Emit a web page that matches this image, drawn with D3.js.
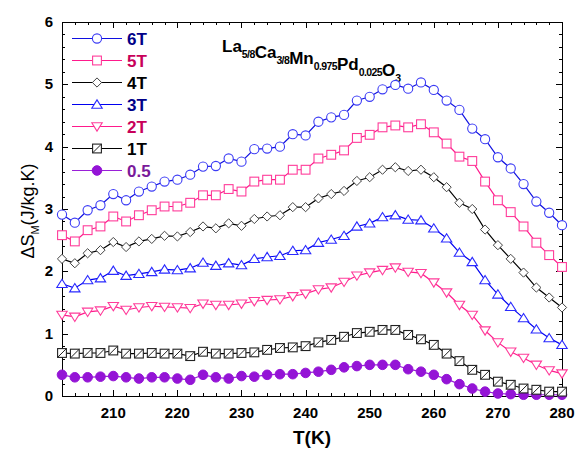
<!DOCTYPE html>
<html>
<head>
<meta charset="utf-8">
<script src="https://cdn.jsdelivr.net/npm/d3@7"></script>
<style>
body { margin: 0; background: #fff; }
text { font-family: Arial, "Liberation Sans", sans-serif; }
.tickLabel { font-size: 15px; font-weight: bold; }
</style>
</head>
<body>
<div id="chart"></div>
<script>
const width = 576;
const height = 452;

const margin = {top: 22, right: 14, bottom: 56, left: 62};

// temperatures (K)
const temps = [202,204,206,208,210,212,214,216,218,220,222,224,226,228,230,232,234,236,238,240,
               242,244,246,248,250,252,254,256,258,260,262,264,266,268,270,272,274,276,278,280];

const s6T = [2.91,2.78,2.98,3.06,3.24,3.14,3.28,3.36,3.44,3.47,3.55,3.68,3.69,3.81,3.76,3.96,3.97,4.00,4.20,4.18,
             4.40,4.47,4.51,4.74,4.80,4.92,4.99,4.93,5.03,4.91,4.74,4.59,4.29,4.12,3.83,3.65,3.40,3.12,2.94,2.74];
const s5T = [2.58,2.48,2.66,2.72,2.88,2.80,2.90,2.98,3.04,3.04,3.10,3.22,3.22,3.32,3.28,3.44,3.47,3.47,3.63,3.63,
             3.81,3.87,3.94,4.14,4.19,4.31,4.34,4.31,4.36,4.23,4.05,3.84,3.77,3.44,3.14,2.95,2.72,2.46,2.26,2.07];
const s4T = [2.20,2.13,2.29,2.34,2.47,2.39,2.48,2.52,2.57,2.56,2.63,2.72,2.69,2.77,2.73,2.84,2.88,2.90,3.03,3.03,
             3.17,3.24,3.29,3.45,3.51,3.63,3.67,3.61,3.63,3.51,3.35,3.10,3.00,2.67,2.42,2.20,1.98,1.74,1.58,1.42];
const s3T = [1.80,1.73,1.86,1.89,2.01,1.93,1.96,1.99,2.03,2.02,2.05,2.14,2.09,2.13,2.10,2.20,2.23,2.25,2.33,2.34,
             2.46,2.51,2.57,2.72,2.77,2.87,2.90,2.83,2.82,2.69,2.53,2.30,2.15,1.86,1.63,1.43,1.25,1.07,0.93,0.82];
const s2T = [1.30,1.27,1.35,1.37,1.44,1.38,1.42,1.44,1.43,1.42,1.41,1.48,1.46,1.46,1.48,1.52,1.54,1.55,1.60,1.64,
             1.71,1.74,1.83,1.93,1.98,2.02,2.06,1.99,1.97,1.82,1.66,1.46,1.30,1.05,0.86,0.71,0.61,0.50,0.41,0.36];
const s1T = [0.69,0.68,0.69,0.69,0.73,0.68,0.68,0.69,0.68,0.68,0.64,0.71,0.68,0.68,0.69,0.70,0.74,0.77,0.78,0.80,
             0.86,0.90,0.95,1.01,1.03,1.06,1.06,0.98,0.91,0.82,0.68,0.56,0.42,0.34,0.23,0.18,0.12,0.10,0.07,0.07];
const s05 = [0.34,0.30,0.30,0.31,0.32,0.30,0.28,0.30,0.30,0.28,0.26,0.34,0.30,0.28,0.32,0.31,0.34,0.35,0.35,0.37,
             0.39,0.42,0.46,0.48,0.50,0.50,0.50,0.43,0.39,0.34,0.27,0.19,0.12,0.07,0.04,0.03,0.02,0.02,0.02,0.02];

const seriesNames = ["6T", "5T", "4T", "3T", "2T", "1T", "0.5"];
const seriesValues = [s6T, s5T, s4T, s3T, s2T, s1T, s05];

const xTicks = [210, 220, 230, 240, 250, 260, 270, 280];
const yTicks = [0, 1, 2, 3, 4, 5, 6];

// look of each series
const styles = {
   "6T":  {line: "#1010e0", stroke: "#3c3cf5", label: "#000088", marker: "circle"},
   "5T":  {line: "#ff1a8c", stroke: "#ff3c9a", label: "#c8005a", marker: "square"},
   "4T":  {line: "#000000", stroke: "#444444", label: "#000000", marker: "diamond"},
   "3T":  {line: "#0000f0", stroke: "#2a2aff", label: "#000088", marker: "triangle"},
   "2T":  {line: "#ff1a8c", stroke: "#ff3c9a", label: "#c8005a", marker: "triangleDown"},
   "1T":  {line: "#000000", stroke: "#222222", label: "#000000", marker: "slashSquare"},
   "0.5": {line: "#9a20d8", stroke: "#9414d6", label: "#7a1a9a", marker: "dot"}
};

const svg = d3.select("#chart").append("svg")
   .attr("width", width)
   .attr("height", height);

const x = d3.scaleLinear()
   .domain([202, 280])
   .range([margin.left, width - margin.right]);

const y = d3.scaleLinear()
   .domain([0, 6])
   .range([height - margin.bottom, margin.top]);

const x0 = margin.left, x1 = width - margin.right;
const y0 = height - margin.bottom, y1 = margin.top;

// ticks (inward on all four sides)
const xMinor = d3.range(202, 280.1, 2);
const yMinor = d3.range(0, 6.01, 0.2);
const tickG = svg.append("g").attr("stroke", "#000").attr("stroke-width", 1);

xMinor.forEach(t => {
   const len = xTicks.includes(Math.round(t)) ? 6 : 3;
   const px = Math.round(x(t)) + 0.5;
   tickG.append("line").attr("x1", px).attr("x2", px).attr("y1", y0).attr("y2", y0 - len);
   tickG.append("line").attr("x1", px).attr("x2", px).attr("y1", y1).attr("y2", y1 + len);
});
yMinor.forEach(v => {
   const major = Math.abs(v - Math.round(v)) < 1e-6;
   const len = major ? 6 : 3;
   const py = Math.round(y(v)) + 0.5;
   tickG.append("line").attr("x1", x0).attr("x2", x0 + len).attr("y1", py).attr("y2", py);
   tickG.append("line").attr("x1", x1).attr("x2", x1 - len).attr("y1", py).attr("y2", py);
});

// frame
svg.append("rect")
   .attr("x", x0 + 0.5).attr("y", y1 + 0.5)
   .attr("width", x1 - x0).attr("height", y0 - y1)
   .attr("fill", "none").attr("stroke", "#000").attr("stroke-width", 1);

// tick labels
svg.selectAll("text.xl")
   .data(xTicks)
   .enter().append("text")
   .attr("class", "tickLabel xl")
   .attr("x", d => x(d))
   .attr("y", y0 + 22)
   .attr("text-anchor", "middle")
   .text(d => d);

svg.selectAll("text.yl")
   .data(yTicks)
   .enter().append("text")
   .attr("class", "tickLabel yl")
   .attr("x", x0 - 9)
   .attr("y", d => y(d) + 5)
   .attr("text-anchor", "end")
   .text(d => d);

// axis titles
svg.append("text")
   .attr("x", (x0 + x1) / 2)
   .attr("y", 444)
   .attr("text-anchor", "middle")
   .style("font-size", "19px")
   .style("font-weight", "bold")
   .text("T(K)");

const yTitle = svg.append("text")
   .attr("transform", `translate(34, ${(y0 + y1) / 2 + 2}) rotate(-90)`)
   .attr("text-anchor", "middle")
   .style("font-size", "18px");
yTitle.append("tspan").text("ΔS");
yTitle.append("tspan").attr("dy", 5).style("font-size", "11px").text("M");
yTitle.append("tspan").attr("dy", -5).text("(J/kg.K)");

// compound formula
const formula = svg.append("text")
   .attr("x", 222)
   .attr("y", 52)
   .style("font-weight", "bold")
   .style("font-size", "17px");
[["La", "5/8"], ["Ca", "3/8"], ["Mn", "0.975"], ["Pd", "0.025"], ["O", "3"]].forEach(p => {
   formula.append("tspan").attr("dy", 0).text(p[0]);
   formula.append("tspan").attr("dy", 6).style("font-size", "10.5px").style("letter-spacing", "-0.6px").text(p[1]);
   formula.append("tspan").attr("dy", -6).text("");
});

// marker drawing
function drawMarker(g, type, cx, cy, st) {
   if (type === "circle") {
      g.append("circle").attr("cx", cx).attr("cy", cy).attr("r", 4.6)
         .attr("fill", "#fff").attr("stroke", st.stroke).attr("stroke-width", 1.1);
   } else if (type === "dot") {
      g.append("circle").attr("cx", cx).attr("cy", cy).attr("r", 4.8)
         .attr("fill", st.stroke).attr("stroke", st.stroke);
   } else if (type === "square" || type === "slashSquare") {
      const s = 4.4;
      g.append("rect").attr("x", cx - s).attr("y", cy - s).attr("width", 2 * s).attr("height", 2 * s)
         .attr("fill", "#fff").attr("stroke", st.stroke).attr("stroke-width", 1.1);
      if (type === "slashSquare") {
         g.append("line").attr("x1", cx - s).attr("y1", cy + s).attr("x2", cx + s).attr("y2", cy - s)
            .attr("stroke", st.stroke).attr("stroke-width", 1);
      }
   } else if (type === "diamond") {
      const s = 4.6;
      g.append("path").attr("d", `M${cx},${cy - s}L${cx + s},${cy}L${cx},${cy + s}L${cx - s},${cy}Z`)
         .attr("fill", "#fff").attr("stroke", st.stroke).attr("stroke-width", 1);
   } else if (type === "triangle" || type === "triangleDown") {
      const h = 4.6, w = 5.2;
      const d = type === "triangle"
         ? `M${cx},${cy - h}L${cx + w},${cy + h * 0.8}L${cx - w},${cy + h * 0.8}Z`
         : `M${cx},${cy + h}L${cx + w},${cy - h * 0.8}L${cx - w},${cy - h * 0.8}Z`;
      g.append("path").attr("d", d)
         .attr("fill", "#fff").attr("stroke", st.stroke).attr("stroke-width", 1.1);
   }
}

const line = d3.line()
   .x(d => x(d.t))
   .y(d => y(d.v));

// series, drawn bottom-up so the upper curves sit on top
seriesNames.slice().reverse().forEach(name => {
   const vals = seriesValues[seriesNames.indexOf(name)];
   const st = styles[name];
   const pts = temps.map((t, i) => ({t: t, v: vals[i]}));
   const g = svg.append("g");
   g.append("path")
      .datum(pts)
      .attr("d", line)
      .attr("fill", "none")
      .attr("stroke", st.line)
      .attr("stroke-width", 1.2);
   pts.forEach(p => drawMarker(g, st.marker, x(p.t), y(p.v), st));
});

// legend
const legend = svg.append("g");
seriesNames.forEach((name, i) => {
   const st = styles[name];
   const ly = 38.5 + i * 22;
   legend.append("line")
      .attr("x1", 72).attr("x2", 122)
      .attr("y1", ly).attr("y2", ly)
      .attr("stroke", st.line).attr("stroke-width", 1.2);
   drawMarker(legend, st.marker, 97, ly, st);
   legend.append("text")
      .attr("x", 127)
      .attr("y", ly + 6)
      .style("font-size", "17px")
      .style("font-weight", "bold")
      .attr("fill", st.label)
      .text(name);
});
</script>
</body>
</html>
